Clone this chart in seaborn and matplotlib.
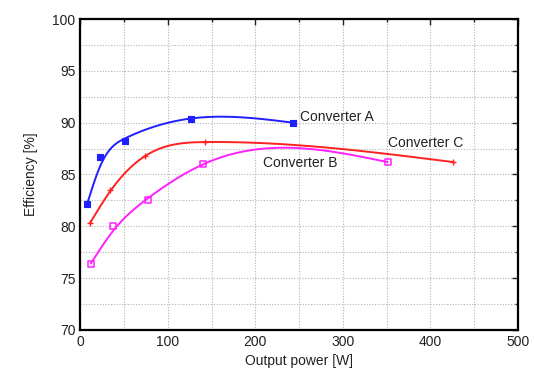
import numpy as np
import pandas as pd
import matplotlib
matplotlib.use("Agg")
import matplotlib.pyplot as plt
import seaborn as sns
from matplotlib.ticker import MultipleLocator

# ---- data ----
power_a = [8, 23, 51, 126, 243]
eff_a = [82.2, 86.7, 88.2, 90.4, 90.0]
power_b = [12, 37, 77, 140, 351]
eff_b = [76.4, 80.0, 82.5, 86.0, 86.2]
power_c = [11, 34, 74, 143, 426]
eff_c = [80.3, 83.5, 86.8, 88.1, 86.2]
names = ["Converter A", "Converter B", "Converter C"]
colors = ["#1f1fff", "#ff20ff", "#ff2020"]
smoothing = [800, 4000, 1500]
label_pos = {"Converter A": (251, 90.5), "Converter B": (209, 86.1), "Converter C": (351, 88.0)}


def smooth_spline(x, y, lam, w):
    """Penalised (Reinsch) cubic smoothing spline evaluated on a fine grid."""
    x = np.asarray(x, float); y = np.asarray(y, float); w = np.asarray(w, float)
    n = len(x)
    h = np.diff(x)
    Q = np.zeros((n, n - 2))
    R = np.zeros((n - 2, n - 2))
    for j in range(1, n - 1):
        Q[j - 1, j - 1] = 1 / h[j - 1]
        Q[j, j - 1] = -1 / h[j - 1] - 1 / h[j]
        Q[j + 1, j - 1] = 1 / h[j]
        R[j - 1, j - 1] = (h[j - 1] + h[j]) / 3
        if j < n - 2:
            R[j - 1, j] = R[j, j - 1] = h[j] / 6
    K = Q @ np.linalg.solve(R, Q.T)
    g = np.linalg.solve(np.diag(w) + lam * K, w * y)
    gam = np.concatenate([[0], np.linalg.solve(R, Q.T @ g), [0]])
    xx = np.linspace(x[0], x[-1], 500)
    i = np.clip(np.searchsorted(x, xx) - 1, 0, n - 2)
    hi = h[i]; a = xx - x[i]; b = x[i + 1] - xx
    yy = (a * g[i + 1] + b * g[i]) / hi - a * b / 6 * ((1 + a / hi) * gam[i + 1] + (1 + b / hi) * gam[i])
    return xx, yy


sns.set_style("white")
plt.rcParams['font.family'] = ['Liberation Sans', 'DejaVu Sans']

fig = plt.figure(figsize=(5.34, 3.77), dpi=100)
ax = fig.add_axes([0.1504, 0.1247, 0.970 - 0.1504, 0.9496 - 0.1247])

series = [(power_a, eff_a), (power_b, eff_b), (power_c, eff_c)]
for (p, e), name, col, lam in zip(series, names, colors, smoothing):
    weights = np.ones(len(p)); weights[0] = weights[-1] = 30
    xx, yy = smooth_spline(p, e, lam, weights)
    curve = pd.DataFrame({"power": xx, "eff": yy})
    sns.lineplot(data=curve, x="power", y="eff", color=col, lw=1.4, ax=ax, legend=False)
    pts = pd.DataFrame({"power": p, "eff": e})
    if name == "Converter A":
        sns.scatterplot(data=pts, x="power", y="eff", marker="s", s=13, color=col,
                        edgecolor=col, linewidth=0.8, ax=ax, zorder=5)
    elif name == "Converter B":
        sns.scatterplot(data=pts, x="power", y="eff", marker="s", s=18, facecolor="none",
                        edgecolor=col, linewidth=1.1, ax=ax, zorder=5)
    else:
        sns.scatterplot(data=pts, x="power", y="eff", marker="+", s=16, color=col,
                        linewidth=1.0, ax=ax, zorder=5)
    lx, ly = label_pos[name]
    ax.text(lx, ly, name, fontsize=10, ha="left", va="center", color="#222222")

ax.set_xlim(0, 500)
ax.set_ylim(70, 100)
ax.xaxis.set_major_locator(MultipleLocator(100))
ax.xaxis.set_minor_locator(MultipleLocator(50))
ax.yaxis.set_major_locator(MultipleLocator(5))
ax.yaxis.set_minor_locator(MultipleLocator(2.5))
ax.grid(True, which="both", linestyle=(0, (1, 1.5)), color="#b5b5b5", linewidth=0.8)
ax.set_axisbelow(True)
ax.tick_params(which="both", direction="in", top=True, right=True, labelsize=10,
               colors="#222222")
ax.tick_params(which="major", length=4, width=1)
ax.tick_params(which="minor", length=2.5, width=1)
for s in ax.spines.values():
    s.set_color("black")
    s.set_linewidth(1.6)
ax.set_xlabel("Output power [W]", fontsize=10, color="#222222")
ax.set_ylabel("Efficiency [%]", fontsize=10, color="#222222", labelpad=10)

fig.savefig("out.png", dpi=100)
